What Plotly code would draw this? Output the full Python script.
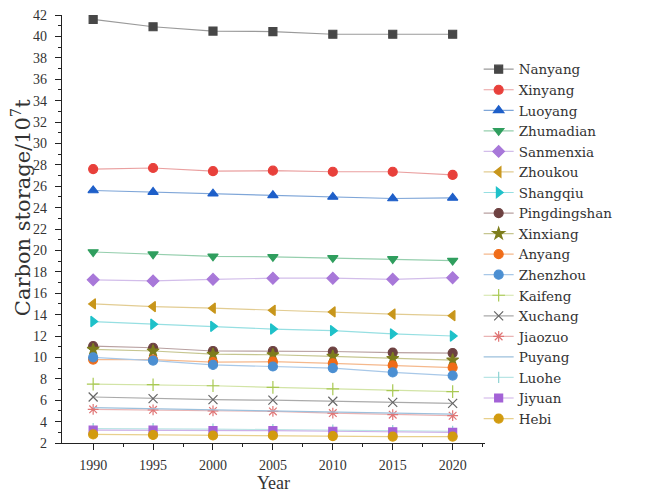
import plotly.graph_objects as go

years = [1990, 1995, 2000, 2005, 2010, 2015, 2020]

cities = ["Nanyang", "Xinyang", "Luoyang", "Zhumadian", "Sanmenxia", "Zhoukou",
          "Shangqiu", "Pingdingshan", "Xinxiang", "Anyang", "Zhenzhou", "Kaifeng",
          "Xuchang", "Jiaozuo", "Puyang", "Luohe", "Jiyuan", "Hebi"]

nanyang = [41.6, 40.9, 40.5, 40.45, 40.2, 40.2, 40.2]
xinyang = [27.6, 27.7, 27.4, 27.45, 27.35, 27.35, 27.05]
luoyang = [25.6, 25.45, 25.3, 25.15, 25.0, 24.85, 24.9]
zhumadian = [19.85, 19.65, 19.45, 19.4, 19.3, 19.2, 19.05]
sanmenxia = [17.25, 17.15, 17.3, 17.4, 17.4, 17.3, 17.45]
zhoukou = [15.0, 14.75, 14.6, 14.4, 14.25, 14.05, 13.9]
shangqiu = [13.35, 13.1, 12.9, 12.65, 12.5, 12.2, 12.0]
pingdingshan = [11.05, 10.9, 10.6, 10.6, 10.55, 10.45, 10.4]
xinxiang = [10.75, 10.6, 10.3, 10.25, 10.1, 9.9, 9.75]
anyang = [9.8, 9.8, 9.55, 9.6, 9.45, 9.25, 9.05]
zhenzhou = [10.0, 9.7, 9.3, 9.15, 9.0, 8.6, 8.3]
kaifeng = [7.5, 7.45, 7.35, 7.2, 7.05, 6.9, 6.8]
xuchang = [6.3, 6.15, 6.05, 6.0, 5.9, 5.8, 5.7]
jiaozuo = [5.15, 5.1, 5.0, 4.95, 4.8, 4.65, 4.55]
puyang = [5.3, 5.2, 5.1, 5.0, 4.9, 4.8, 4.7]
luohe = [3.35, 3.35, 3.3, 3.25, 3.2, 3.15, 3.1]
jiyuan = [3.2, 3.2, 3.15, 3.15, 3.1, 3.05, 3.0]
hebi = [2.8, 2.75, 2.7, 2.7, 2.65, 2.6, 2.6]

values = [nanyang, xinyang, luoyang, zhumadian, sanmenxia, zhoukou, shangqiu,
          pingdingshan, xinxiang, anyang, zhenzhou, kaifeng, xuchang, jiaozuo,
          puyang, luohe, jiyuan, hebi]

styles = [
    ("square", "#474747", "#9a9a9a", 8),
    ("circle", "#e8403b", "#eaa0a0", 9),
    ("triangle-up", "#1e5fc9", "#7fa6d8", 9),
    ("triangle-down", "#2f9e5e", "#96cfae", 9),
    ("diamond", "#a878d9", "#d2bdea", 9),
    ("triangle-left", "#c8961b", "#e2cc92", 9),
    ("triangle-right", "#1fc1c9", "#96dfe2", 9),
    ("circle", "#6d4141", "#b8a0a0", 9),
    ("star", "#7d7d1c", "#c6c690", 9),
    ("circle", "#f06c18", "#f5b88c", 9),
    ("circle", "#4b8fd2", "#a8c8e8", 9),
    ("cross-thin", "#a9c953", "#d2e4a6", 9),
    ("x-thin", "#666666", "#aaaaaa", 9),
    ("asterisk", "#e07575", "#eab4b4", 9),
    (None, "#6fa3cc", "#9cc0dc", 0),
    ("line-ns", "#8fd3d3", "#b9e5e5", 8),
    ("square", "#a362d6", "#cdb0e8", 8),
    ("circle", "#d29b0f", "#e8d08c", 9),
]

fig = go.Figure()
for name, vals, (sym, mc, lc, ms) in zip(cities, values, styles):
    if sym is None:
        fig.add_trace(go.Scatter(x=years, y=vals, name=name, mode="lines",
                                 line=dict(color=lc, width=1.2)))
    else:
        fig.add_trace(go.Scatter(
            x=years, y=vals, name=name, mode="lines+markers",
            line=dict(color=lc, width=1.2),
            marker=dict(symbol=sym, size=ms, color=mc,
                        line=dict(color=mc, width=1.2))))

font = "Liberation Serif"
wide = "DejaVu Serif"
fig.update_layout(
    width=648, height=493,
    margin=dict(l=62, r=163, t=15, b=50, autoexpand=False),
    paper_bgcolor="white", plot_bgcolor="white",
    font=dict(family=font, size=14, color="#333333"),
    showlegend=True,
    legend=dict(x=0.985, y=0.909, xanchor="left", yanchor="top",
                font=dict(family=wide, size=13.5, color="#333333"),
                itemwidth=30, tracegroupgap=0, bgcolor="rgba(0,0,0,0)"),
    annotations=[dict(
        text="Carbon storage/10<sup>7</sup>t", textangle=-90,
        xref="paper", yref="paper", x=-0.097, y=0.551,
        xanchor="center", yanchor="middle", showarrow=False,
        font=dict(family=wide, size=21, color="#333333"))],
)
fig.update_xaxes(
    range=[1987.4, 2022.7],
    tickmode="array", tickvals=years, ticktext=[str(y) for y in years],
    ticks="outside", ticklen=6, tickwidth=1.2, tickcolor="#222",
    ticklabelstandoff=3,
    minor=dict(tickvals=[1992.5, 1997.5, 2002.5, 2007.5, 2012.5, 2017.5, 2022.5],
               ticks="outside", ticklen=3, tickcolor="#222"),
    showline=True, linecolor="#222", linewidth=1.2,
    showgrid=False, zeroline=False,
    tickfont=dict(family=font, size=14),
    title=dict(text="Year", font=dict(family=font, size=18), standoff=2),
)
fig.update_yaxes(
    range=[2, 42],
    tickmode="linear", tick0=2, dtick=2,
    ticks="outside", ticklen=6, tickwidth=1.2, tickcolor="#222",
    ticklabelstandoff=5,
    minor=dict(dtick=1, ticks="outside", ticklen=3, tickcolor="#222"),
    showline=True, linecolor="#222", linewidth=1.2,
    showgrid=False, zeroline=False,
    tickfont=dict(family=font, size=14),
)

fig.write_html("out.html", config={"displayModeBar": False},
               post_script="document.body.style.margin='0';")
